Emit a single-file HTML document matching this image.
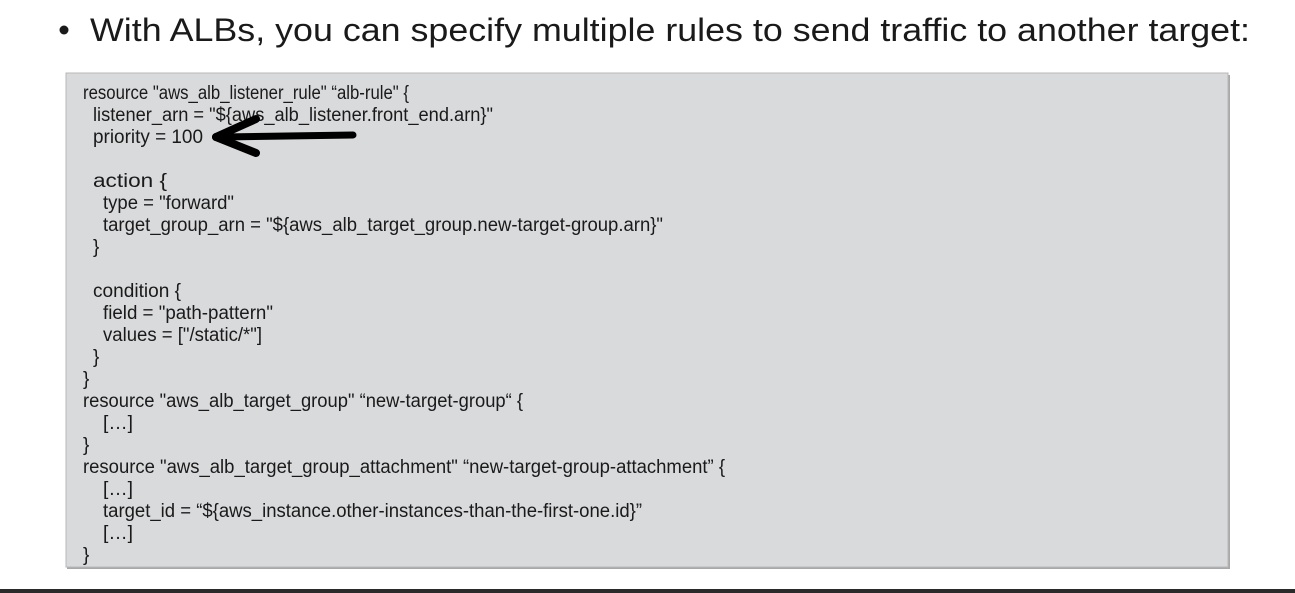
<!DOCTYPE html>
<html><head><meta charset="utf-8"><style>
html,body{margin:0;padding:0;background:#fff;}
svg{display:block;}
text{font-family:"Liberation Sans",sans-serif;fill:#1a1a1a;}
.c{font-size:19px;}
</style></head><body>
<svg width="1295" height="593" viewBox="0 0 1295 593" xmlns="http://www.w3.org/2000/svg">
<rect width="1295" height="593" fill="#fff"/>
<circle cx="64" cy="30" r="4.5" fill="#1a1a1a"/>
<text x="90" y="41" font-size="32" textLength="1160" lengthAdjust="spacingAndGlyphs" style="font-weight:300">With ALBs, you can specify multiple rules to send traffic to another target:</text>
<rect x="67" y="75" width="1163" height="494" fill="#a8a8a8"/>
<rect x="66" y="73" width="1162" height="494" fill="#d9dadc" stroke="#b8b8b8" stroke-width="1"/>
<g class="c">
<text x="83" y="99" textLength="326" lengthAdjust="spacingAndGlyphs">resource "aws_alb_listener_rule" “alb-rule" {</text>
<text x="93" y="121" textLength="400" lengthAdjust="spacingAndGlyphs">listener_arn = "${aws_alb_listener.front_end.arn}"</text>
<text x="93" y="143" textLength="110" lengthAdjust="spacingAndGlyphs">priority = 100</text>
<text x="93" y="187" textLength="74" lengthAdjust="spacingAndGlyphs">action {</text>
<text x="103" y="209" textLength="131" lengthAdjust="spacingAndGlyphs">type = "forward"</text>
<text x="103" y="231" textLength="560" lengthAdjust="spacingAndGlyphs">target_group_arn = "${aws_alb_target_group.new-target-group.arn}"</text>
<text x="93" y="253">}</text>
<text x="93" y="297" textLength="88" lengthAdjust="spacingAndGlyphs">condition {</text>
<text x="103" y="319" textLength="170" lengthAdjust="spacingAndGlyphs">field = "path-pattern"</text>
<text x="103" y="341" textLength="159" lengthAdjust="spacingAndGlyphs">values = ["/static/*"]</text>
<text x="93" y="363">}</text>
<text x="83" y="385">}</text>
<text x="83" y="407" textLength="440" lengthAdjust="spacingAndGlyphs">resource "aws_alb_target_group" “new-target-group“ {</text>
<text x="103" y="429" textLength="30" lengthAdjust="spacingAndGlyphs">[…]</text>
<text x="83" y="451">}</text>
<text x="83" y="473" textLength="642" lengthAdjust="spacingAndGlyphs">resource "aws_alb_target_group_attachment" “new-target-group-attachment” {</text>
<text x="103" y="495" textLength="30" lengthAdjust="spacingAndGlyphs">[…]</text>
<text x="103" y="517" textLength="539" lengthAdjust="spacingAndGlyphs">target_id = “${aws_instance.other-instances-than-the-first-one.id}”</text>
<text x="103" y="539" textLength="30" lengthAdjust="spacingAndGlyphs">[…]</text>
<text x="83" y="561">}</text>
</g>
<g stroke="#000" stroke-linecap="round" fill="none">
<line x1="353" y1="135" x2="222" y2="137" stroke-width="7"/>
<line x1="216" y1="137" x2="256" y2="119" stroke-width="8"/>
<line x1="216" y1="137" x2="256" y2="153" stroke-width="8"/>
</g>
<rect x="0" y="589" width="1295" height="4" fill="#2a2a2a"/>
</svg>
</body></html>
